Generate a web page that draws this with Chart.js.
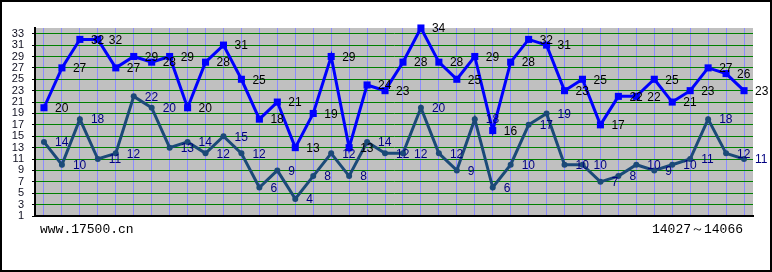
<!DOCTYPE html>
<html>
<head>
<meta charset="utf-8">
<script src="https://cdn.jsdelivr.net/npm/chart.js@4/dist/chart.umd.min.js"></script>
<style>
    html, body { margin: 0; padding: 0; background: #fff; }
    .wrap { position: relative; width: 772px; height: 272px; }
    .wrap canvas { position: absolute; left: 0; top: 0; }
    .frame {
        position: absolute; left: 0; top: 0; width: 772px; height: 272px;
        box-sizing: border-box; border: 2px solid #000; pointer-events: none;
    }
    .foot {
        position: absolute; top: 222px; font: 13px 'Liberation Mono', monospace;
        color: #000; white-space: nowrap; line-height: 16px;
    }
    .foot.site { left: 40px; }
    .foot.range { right: 29px; }
</style>
</head>
<body>
<div class="wrap">
    <canvas id="chart" width="772" height="272"></canvas>
    <div class="frame"></div>
    <div class="foot site">www.17500.cn</div>
    <div class="foot range">14027～14066</div>
</div>
<script>
// draw periods 14027 - 14066
const periods = [
    '14027', '14028', '14029', '14030', '14031', '14032', '14033', '14034', '14035', '14036',
    '14037', '14038', '14039', '14040', '14041', '14042', '14043', '14044', '14045', '14046',
    '14047', '14048', '14049', '14050', '14051', '14052', '14053', '14054', '14055', '14056',
    '14057', '14058', '14059', '14060', '14061', '14062', '14063', '14064', '14065', '14066'
];

// upper (blue) series
const upperValues = [
    20, 27, 32, 32, 27, 29, 28, 29, 20, 28,
    31, 25, 18, 21, 13, 19, 29, 13, 24, 23,
    28, 34, 28, 25, 29, 16, 28, 32, 31, 23,
    25, 17, 22, 22, 25, 21, 23, 27, 26, 23
];

// lower (dark) series
const lowerValues = [
    14, 10, 18, 11, 12, 22, 20, 13, 14, 12,
    15, 12, 6, 9, 4, 8, 12, 8, 14, 12,
    12, 20, 12, 9, 18, 6, 10, 17, 19, 10,
    10, 7, 8, 10, 9, 10, 11, 18, 12, 11
];

const yTicks = [1, 3, 5, 7, 9, 11, 13, 15, 17, 19, 21, 23, 25, 27, 29, 31, 33];

// gray plot background
const plotBackground = {
    id: 'plotBackground',
    beforeDraw(chart) {
        const { ctx, chartArea: a } = chart;
        ctx.save();
        ctx.fillStyle = '#c0c0c0';
        ctx.fillRect(a.left, a.top, a.right - a.left, a.bottom - a.top);
        ctx.restore();
    }
};

// value printed to the right of every point
const pointLabels = {
    id: 'pointLabels',
    afterDatasetsDraw(chart) {
        const { ctx } = chart;
        ctx.save();
        ctx.font = "12px 'Liberation Sans', Arial, sans-serif";
        ctx.textAlign = 'left';
        ctx.textBaseline = 'middle';
        chart.data.datasets.forEach((ds, i) => {
            const meta = chart.getDatasetMeta(i);
            ctx.fillStyle = ds.labelColor;
            meta.data.forEach((pt, j) => {
                ctx.fillText(String(ds.data[j]), pt.x + 11, pt.y + 1);
            });
        });
        ctx.restore();
    }
};

new Chart(document.getElementById('chart').getContext('2d'), {
    type: 'line',
    data: {
        labels: periods,
        datasets: [
            {
                data: upperValues,
                borderColor: '#0000ff',
                backgroundColor: '#0000ff',
                borderWidth: 3,
                pointStyle: 'rect',
                pointRadius: 5,
                pointBorderWidth: 0,
                tension: 0,
                clip: false,
                labelColor: '#000000'
            },
            {
                data: lowerValues,
                borderColor: '#1b4a78',
                backgroundColor: '#1b4a78',
                borderWidth: 3,
                pointStyle: 'circle',
                pointRadius: 3,
                pointBorderWidth: 0,
                tension: 0,
                clip: false,
                labelColor: '#000080'
            }
        ]
    },
    options: {
        responsive: false,
        animation: false,
        devicePixelRatio: 1,
        layout: { padding: { top: 28, right: 19, bottom: 56, left: 0 } },
        plugins: {
            legend: { display: false },
            tooltip: { enabled: false }
        },
        scales: {
            x: {
                type: 'category',
                offset: true,
                grid: { color: '#8c8cff', lineWidth: 1, drawTicks: false, offset: false },
                border: { color: '#000', width: 2 },
                ticks: { display: false },
                afterFit(scale) { scale.height = 0; }
            },
            y: {
                min: 1,
                max: 34,
                afterBuildTicks(scale) {
                    scale.ticks = yTicks.map(v => ({ value: v }));
                },
                afterFit(scale) { scale.width = 35; },
                grid: { color: '#008000', lineWidth: 1, tickLength: 3, tickColor: '#000' },
                border: { color: '#000', width: 2 },
                ticks: {
                    autoSkip: false,
                    color: '#101020',
                    padding: 8,
                    font: { family: "'Liberation Sans', Arial, sans-serif", size: 11 }
                }
            }
        }
    },
    plugins: [plotBackground, pointLabels]
});
</script>
</body>
</html>
